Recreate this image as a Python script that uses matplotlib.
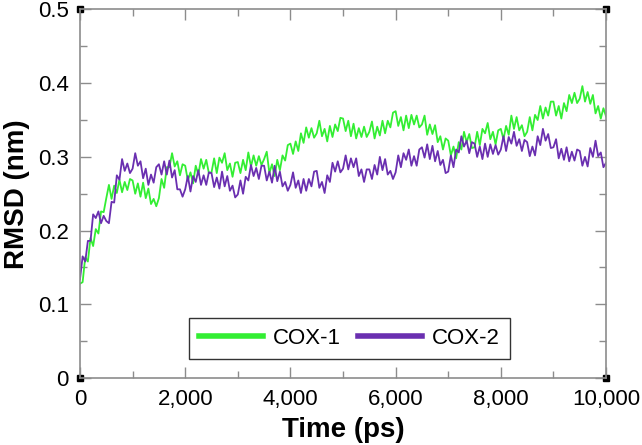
import numpy as np
import matplotlib
matplotlib.use("Agg")
import matplotlib.pyplot as plt
from matplotlib.ticker import MultipleLocator, FuncFormatter

# --- datos (RMSD en nm, cada 50 ps) ---
tiempo = np.arange(0, 10001, 50)

cox1 = [
    0.128, 0.130, 0.164, 0.158, 0.190, 0.179, 0.202, 0.196, 0.226, 0.225,
    0.244, 0.262, 0.243, 0.261, 0.251, 0.269, 0.252, 0.266, 0.255, 0.270,
    0.268, 0.250, 0.264, 0.246, 0.265, 0.244, 0.257, 0.236, 0.243, 0.233,
    0.244, 0.270, 0.258, 0.286, 0.286, 0.305, 0.287, 0.294, 0.275, 0.290,
    0.288, 0.268, 0.279, 0.264, 0.288, 0.276, 0.297, 0.284, 0.296, 0.278,
    0.279, 0.298, 0.278, 0.299, 0.292, 0.305, 0.282, 0.291, 0.273, 0.292,
    0.293, 0.278, 0.296, 0.282, 0.306, 0.287, 0.302, 0.288, 0.301, 0.289,
    0.297, 0.307, 0.278, 0.290, 0.274, 0.296, 0.282, 0.302, 0.295, 0.316,
    0.318, 0.304, 0.321, 0.308, 0.332, 0.319, 0.340, 0.326, 0.339, 0.326,
    0.332, 0.349, 0.328, 0.338, 0.321, 0.342, 0.327, 0.344, 0.335, 0.353,
    0.352, 0.335, 0.349, 0.328, 0.345, 0.325, 0.339, 0.327, 0.341, 0.327,
    0.334, 0.348, 0.325, 0.341, 0.329, 0.349, 0.332, 0.349, 0.340, 0.360,
    0.362, 0.342, 0.354, 0.336, 0.356, 0.339, 0.357, 0.344, 0.356, 0.340,
    0.344, 0.356, 0.330, 0.344, 0.331, 0.343, 0.320, 0.328, 0.310, 0.325,
    0.322, 0.302, 0.314, 0.298, 0.320, 0.310, 0.334, 0.320, 0.331, 0.312,
    0.313, 0.334, 0.316, 0.338, 0.332, 0.346, 0.324, 0.334, 0.317, 0.336,
    0.338, 0.324, 0.342, 0.330, 0.356, 0.338, 0.354, 0.336, 0.343, 0.328,
    0.334, 0.354, 0.336, 0.357, 0.350, 0.369, 0.352, 0.367, 0.356, 0.375,
    0.375, 0.356, 0.369, 0.352, 0.373, 0.362, 0.384, 0.373, 0.387, 0.373,
    0.379, 0.396, 0.375, 0.388, 0.372, 0.384, 0.359, 0.369, 0.352, 0.366,
    0.355,
]

cox2 = [
    0.134, 0.165, 0.158, 0.186, 0.186, 0.222, 0.217, 0.226, 0.210, 0.220,
    0.213, 0.210, 0.239, 0.238, 0.275, 0.269, 0.297, 0.281, 0.291, 0.278,
    0.284, 0.305, 0.288, 0.294, 0.271, 0.284, 0.262, 0.276, 0.265, 0.286,
    0.290, 0.276, 0.294, 0.276, 0.295, 0.272, 0.282, 0.256, 0.256, 0.246,
    0.256, 0.274, 0.253, 0.274, 0.266, 0.282, 0.262, 0.275, 0.262, 0.279,
    0.278, 0.259, 0.272, 0.257, 0.280, 0.260, 0.274, 0.254, 0.261, 0.245,
    0.249, 0.268, 0.250, 0.273, 0.268, 0.289, 0.274, 0.285, 0.270, 0.288,
    0.288, 0.268, 0.280, 0.265, 0.288, 0.267, 0.280, 0.260, 0.266, 0.254,
    0.262, 0.279, 0.258, 0.268, 0.251, 0.270, 0.254, 0.270, 0.260, 0.280,
    0.281, 0.258, 0.266, 0.251, 0.275, 0.266, 0.292, 0.280, 0.294, 0.279,
    0.284, 0.302, 0.283, 0.298, 0.286, 0.298, 0.274, 0.283, 0.266, 0.283,
    0.283, 0.270, 0.289, 0.276, 0.300, 0.282, 0.297, 0.276, 0.281, 0.270,
    0.279, 0.302, 0.286, 0.305, 0.296, 0.310, 0.288, 0.301, 0.288, 0.310,
    0.313, 0.299, 0.317, 0.297, 0.315, 0.294, 0.308, 0.289, 0.296, 0.278,
    0.280, 0.302, 0.286, 0.310, 0.306, 0.328, 0.314, 0.322, 0.305, 0.320,
    0.318, 0.300, 0.314, 0.297, 0.318, 0.300, 0.317, 0.304, 0.316, 0.303,
    0.310, 0.328, 0.308, 0.327, 0.318, 0.334, 0.315, 0.324, 0.308, 0.323,
    0.320, 0.301, 0.314, 0.302, 0.328, 0.316, 0.338, 0.322, 0.331, 0.312,
    0.313, 0.324, 0.298, 0.311, 0.296, 0.313, 0.294, 0.307, 0.295, 0.310,
    0.308, 0.288, 0.300, 0.287, 0.312, 0.300, 0.322, 0.301, 0.306, 0.286,
    0.292,
]

etiquetas = ["COX-1", "COX-2"]
colores = ["#33ee33", "#6a2fb0"]

plt.rcParams["font.family"] = ["Liberation Sans", "DejaVu Sans"]

fig = plt.figure(figsize=(6.42, 4.45), dpi=100)
ax = fig.add_axes([0.1246, 0.1506, 0.8194, 0.8281])

for serie, lab, col in zip([cox1, cox2], etiquetas, colores):
    ax.plot(tiempo, serie, color=col, lw=1.3, label=lab)

ax.set_xlim(0, 10000)
ax.set_ylim(0, 0.5)
ax.xaxis.set_major_locator(MultipleLocator(2000))
ax.xaxis.set_minor_locator(MultipleLocator(1000))
ax.yaxis.set_major_locator(MultipleLocator(0.1))
ax.yaxis.set_minor_locator(MultipleLocator(0.05))
ax.xaxis.set_major_formatter(FuncFormatter(lambda v, p: f"{int(v):,}"))
ax.yaxis.set_major_formatter(FuncFormatter(lambda v, p: "0" if v == 0 else f"{v:.1f}"))

for s in ax.spines.values():
    s.set_color("#8c8c8c")
    s.set_linewidth(1.2)
ax.tick_params(which="both", direction="in", top=True, right=True,
               color="#8c8c8c", width=1.0, labelsize=16, pad=8)
ax.tick_params(which="major", length=8)
ax.tick_params(which="minor", length=5)

# cuadritos negros en las esquinas (estilo Grace)
ax.plot([0, 1, 0, 1], [0, 0, 1, 1], "s", color="black", ms=4,
        transform=ax.transAxes, clip_on=False)

ax.set_xlabel("Time (ps)", fontsize=20, fontweight="bold", labelpad=5)
ax.set_ylabel("RMSD (nm)", fontsize=20, fontweight="bold", labelpad=6)

leg = ax.legend(loc="center", bbox_to_anchor=(0.512, 0.108), ncol=2,
                fontsize=16, frameon=True, fancybox=False, edgecolor="black",
                handlelength=2.9, columnspacing=0.75, handletextpad=0.45,
                borderpad=0.45, borderaxespad=0)
leg.get_frame().set_linewidth(1.0)
for l in leg.get_lines():
    l.set_linewidth(4)

fig.savefig("out.png", dpi=100)
